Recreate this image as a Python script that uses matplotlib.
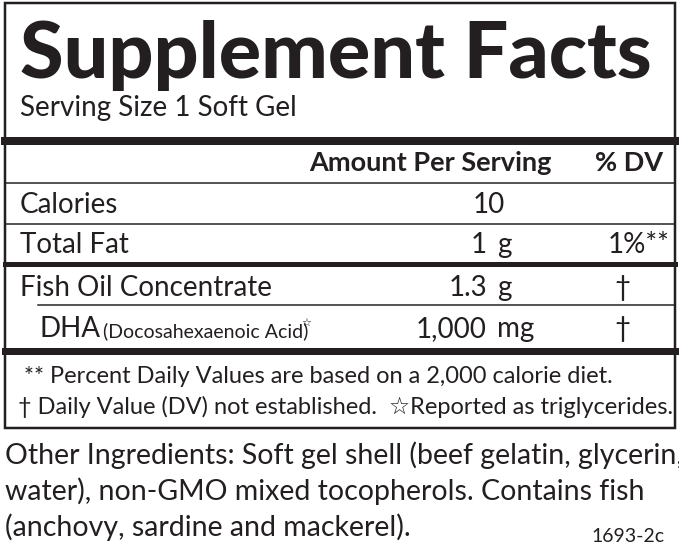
import matplotlib.pyplot as plt
from matplotlib.lines import Line2D

plt.rcParams['font.family'] = ['Lato', 'DejaVu Sans']

title = "Supplement Facts"
serving = "Serving Size 1 Soft Gel"
nutrients = ["Calories", "Total Fat", "Fish Oil Concentrate", "DHA"]
amounts = ["10", "1", "1.3", "1,000"]
units = ["", "g", "g", "mg"]
dv = ["", "1%**", "†", "†"]
row_y = [204, 244, 287, 328]
footnotes = ["** Percent Daily Values are based on a 2,000 calorie diet.",
             "† Daily Value (DV) not established.  ☆Reported as triglycerides."]
other = ["Other Ingredients: Soft gel shell (beef gelatin, glycerin,",
         "water), non-GMO mixed tocopherols. Contains fish",
         "(anchovy, sardine and mackerel)."]
code = "1693-2c"

INK = '#231f20'

fig = plt.figure(figsize=(6.79, 5.58), dpi=100)
ax = fig.add_axes([0, 0, 1, 1])
ax.set_xlim(0, 679)
ax.set_ylim(558, 0)
ax.axis('off')

def hline(y, lw, x0=5, x1=675):
    ax.add_line(Line2D([x0, x1], [y, y], color=INK, lw=lw * 0.72))

# outer box
ax.add_patch(plt.Rectangle((5, 3), 670, 425, fill=False, ec=INK, lw=2.5 * 0.72))

ax.text(20, 78, title, fontsize=57, fontweight='black', color=INK, va='baseline')
ax.text(20, 116, serving, fontsize=20, color=INK, va='baseline')
hline(141, 8)
ax.text(552, 171, "Amount Per Serving", fontsize=19.5, fontweight='bold', ha='right', va='baseline', color=INK)
ax.text(663, 171, "% DV", fontsize=19.5, fontweight='bold', ha='right', va='baseline', color=INK)
hline(183, 1.5)
hline(224, 1.5)
hline(264, 5)
hline(305, 1.5, x0=38)
hline(351, 7)

for name, amt, unit, d, y in zip(nutrients, amounts, units, dv, row_y):
    yb = y + 9
    x = 40 if name == "DHA" else 20
    ax.text(x, yb, name, fontsize=20, va='baseline', color=INK)
    if name == "DHA":
        ax.text(103, yb, "(Docosahexaenoic Acid)", fontsize=14, va='baseline', color=INK)
        ax.text(301, yb - 11, "☆", fontsize=8, family=['DejaVu Sans'], va='baseline', color=INK)
    if unit:
        ax.text(487, yb, amt, fontsize=20, ha='right', va='baseline', color=INK)
        ax.text(497, yb, unit, fontsize=20, ha='left', va='baseline', color=INK)
    else:
        ax.text(505, yb, amt, fontsize=20, ha='right', va='baseline', color=INK)
    if d.startswith("1%"):
        ax.text(670, yb, d, fontsize=20, ha='right', va='baseline', color=INK)
    elif d:
        ax.text(622, yb, d, fontsize=20, ha='center', va='baseline', color=INK)

ax.text(24, 383, footnotes[0], fontsize=17, va='baseline', color=INK)
ax.text(18, 414, footnotes[1], fontsize=17, va='baseline', color=INK)

for i, line in enumerate(other):
    ax.text(5, 464 + i * 36, line, fontsize=20.5, va='baseline', color=INK)
ax.text(665, 542, code, fontsize=14, ha='right', va='baseline', color=INK)

fig.savefig("out.png", dpi=100, facecolor='white')
